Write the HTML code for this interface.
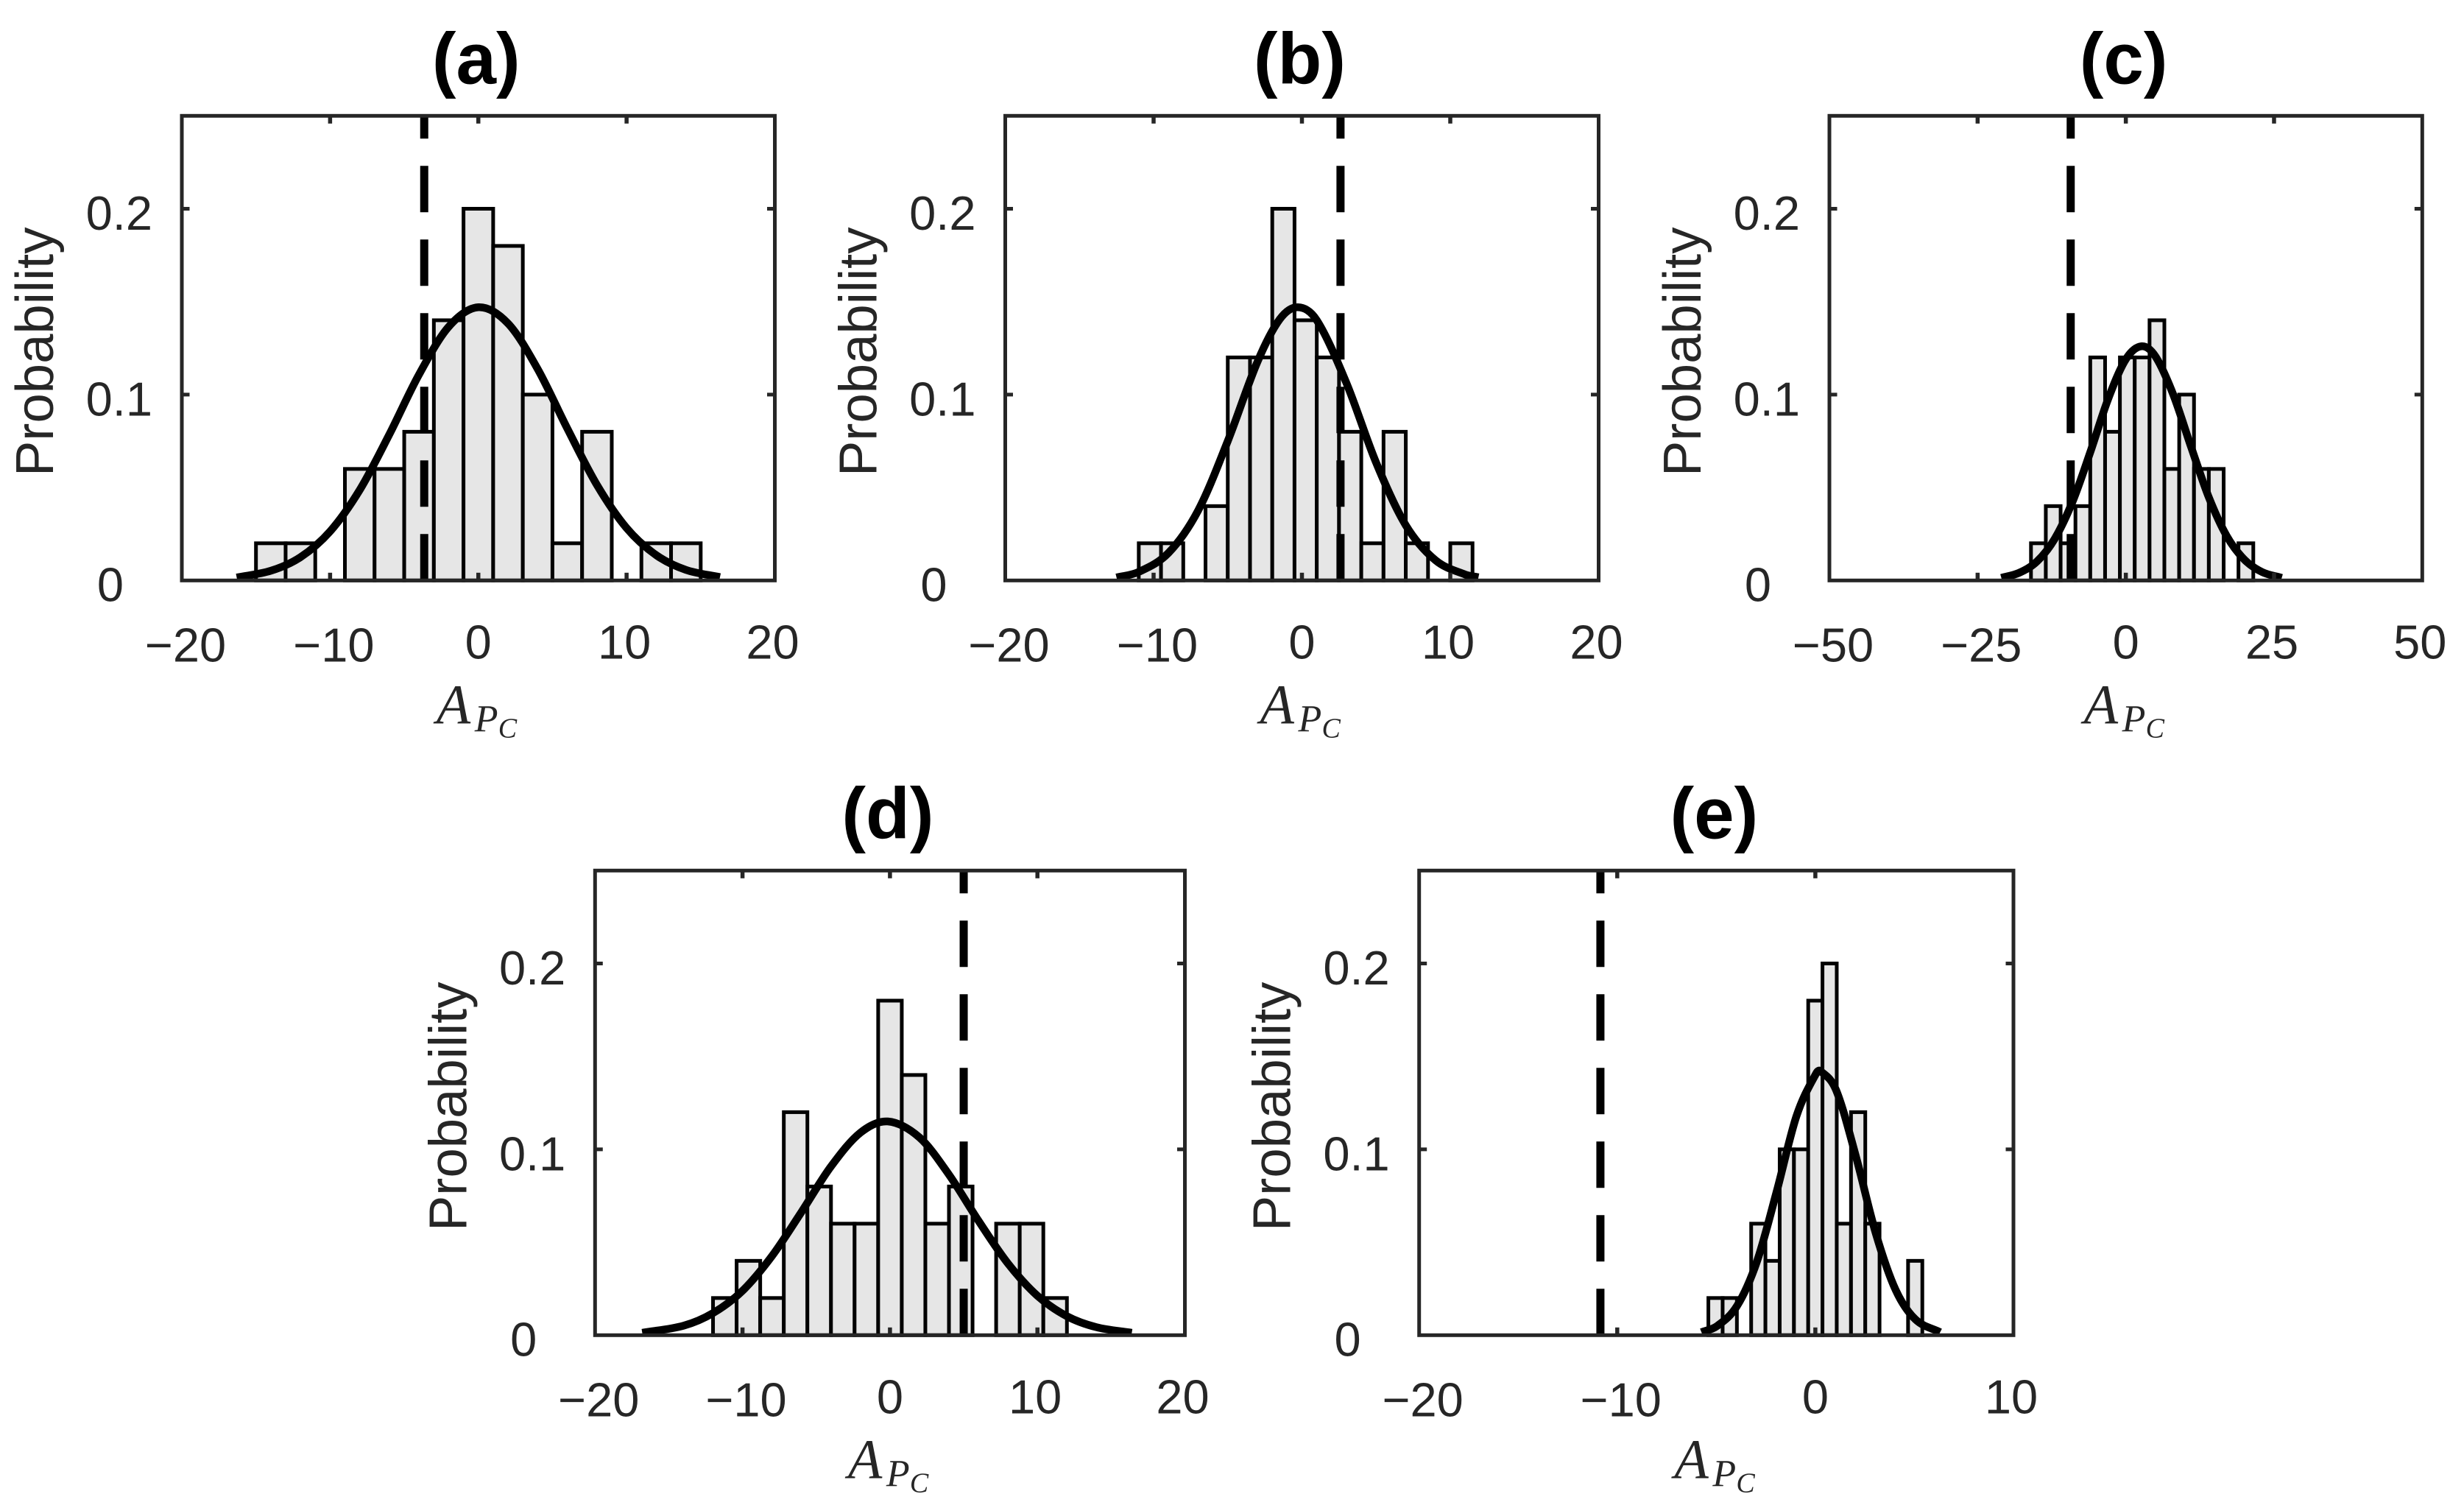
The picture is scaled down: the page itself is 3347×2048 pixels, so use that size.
<!DOCTYPE html>
<html lang="en">
<head>
<meta charset="utf-8">
<title>Probability histograms of A_Pc, panels a to e</title>
<style>
html,body{margin:0;padding:0;background:#fff;}
svg{display:block;}
text{font-family:"Liberation Sans",Arial,sans-serif;}
</style>
</head>
<body>
<svg id="figure" xmlns="http://www.w3.org/2000/svg" width="3347" height="2048" viewBox="0 0 3347 2048"></svg>
<script>
/* Shared axis data */
const yTickValues = [0, 0.1, 0.2];
const yTickLabels = ["0", "0.1", "0.2"];
const yLimits = [0, 0.25];

/* Panel (a) */
const aXTicks = [-20, -10, 0, 10, 20];
const aEdges = [-15,-13,-11,-9,-7,-5,-3,-1,1,3,5,7,9,11,13,15];
const aHeights = [0.02,0.02,0,0.06,0.06,0.08,0.14,0.2,0.18,0.1,0.02,0.08,0,0.02,0.02];
const aCurveX = [-16.3,-14,-12,-10,-8,-6,-4,-2,0,2,4,6,8,10,12,14,16.3];
const aCurveY = [0.0016,0.0052,0.0125,0.0264,0.0487,0.0786,0.1108,0.1365,0.147,0.1383,0.1138,0.0818,0.0514,0.0282,0.0136,0.0057,0.0018];
const aThreshold = [-3.65];

/* Panel (b) */
const bXTicks = [-20, -10, 0, 10, 20];
const bEdges = [-11,-9.5,-8,-6.5,-5,-3.5,-2,-0.5,1,2.5,4,5.5,7,8.5,10,11.5];
const bHeights = [0.02,0.02,0,0.04,0.12,0.12,0.2,0.14,0.12,0.08,0.02,0.08,0.02,0,0.02];
const bCurveX = [-12.5,-11,-9,-7,-5,-3,-1.5,-0.28,1,3,5,7,9,11,11.9];
const bCurveY = [0.0016,0.0046,0.0148,0.0376,0.075,0.1176,0.1405,0.147,0.14,0.1062,0.0634,0.0297,0.0109,0.0032,0.0017];
const bThreshold = [2.6];

/* Panel (c) */
const cXTicks = [-50, -25, 0, 25, 50];
const cEdges = [-16,-13.5,-11,-8.5,-6,-3.5,-1,1.5,4,6.5,9,11.5,14,16.5,19,21.5];
const cHeights = [0.02,0.04,0.02,0.04,0.12,0.08,0.12,0.12,0.14,0.06,0.1,0.06,0.06,0,0.02];
const cCurveX = [-21,-18,-15,-12,-9,-6,-3,0,2.65,5,8,11,14,17,20,23,26.3];
const cCurveY = [0.0014,0.0041,0.0102,0.0224,0.0423,0.069,0.0975,0.119,0.126,0.1205,0.1,0.0719,0.0447,0.024,0.0112,0.0045,0.0014];
const cThreshold = [-9.3];

/* Panel (d) */
const dXTicks = [-20, -10, 0, 10, 20];
const dEdges = [-12,-10.4,-8.8,-7.2,-5.6,-4,-2.4,-0.8,0.8,2.4,4,5.6,7.2,8.8,10.4,12];
const dHeights = [0.02,0.04,0.02,0.12,0.08,0.06,0.06,0.18,0.14,0.06,0.08,0,0.06,0.06,0.02];
const dCurveX = [-16.8,-14,-12,-10,-8,-6,-4,-2,-0.15,2,4,6,8,10,12,14,16.4];
const dCurveY = [0.0013,0.0051,0.0119,0.0239,0.0426,0.0663,0.0908,0.109,0.115,0.1064,0.0864,0.0616,0.0386,0.0212,0.0102,0.0043,0.0013];
const dThreshold = [5.0];

/* Panel (e) */
const eXTicks = [-20, -10, 0, 10];
const eEdges = [-5.4,-4.68,-3.96,-3.24,-2.52,-1.8,-1.08,-0.36,0.36,1.08,1.8,2.52,3.24,3.96,4.68,5.4];
const eHeights = [0.02,0.02,0,0.06,0.04,0.1,0.1,0.18,0.2,0.06,0.12,0.06,0,0,0.04];
const eCurveX = [-5.75,-4.95,-3.95,-2.95,-1.95,-0.95,0.05,0.27,1.05,2.05,3.05,4.05,5.05,6.3];
const eCurveY = [0.0016,0.005,0.0158,0.0396,0.0774,0.118,0.141,0.142,0.1318,0.0961,0.0548,0.0244,0.0085,0.0016];
const eThreshold = [-10.85];

const NS = "http://www.w3.org/2000/svg";
const fig = document.getElementById("figure");
const INK = "#262626";

function make(tag, parent, attrs) {
  const el = document.createElementNS(NS, tag);
  for (const k in attrs) el.setAttribute(k, attrs[k]);
  parent.appendChild(el);
  return el;
}

function curvePath(px, py) {
  const n = px.length;
  const m = [];
  for (let i = 0; i < n; i++) {
    const a = Math.max(i - 1, 0), b = Math.min(i + 1, n - 1);
    m.push((py[b] - py[a]) / (px[b] - px[a]));
  }
  let d = "M" + px[0].toFixed(2) + " " + py[0].toFixed(2);
  for (let i = 0; i < n - 1; i++) {
    const h = (px[i + 1] - px[i]) / 3;
    d += "C" + (px[i] + h).toFixed(2) + " " + (py[i] + m[i] * h).toFixed(2) + " " +
         (px[i + 1] - h).toFixed(2) + " " + (py[i + 1] - m[i + 1] * h).toFixed(2) + " " +
         px[i + 1].toFixed(2) + " " + py[i + 1].toFixed(2);
  }
  return d;
}

function drawPanel(p) {
  const g = make("g", fig, {});
  
  

  const xMin = p.xTicks[0], xMax = p.xTicks[p.xTicks.length - 1];
  const xs = v => p.left + (v - xMin) / (xMax - xMin) * (p.right - p.left);
  const ys = v => p.bottom - (v - yLimits[0]) / (yLimits[1] - yLimits[0]) * (p.bottom - p.top);
  const cx = (p.left + p.right) / 2;

  /* title */
  const title = make("text", g, {x: cx - 3, y: p.top - 44, "text-anchor": "middle", "font-size": 98, "font-weight": "bold", fill: "#000"});
  title.textContent = "(" + p.id + ")";
  
  

  /* bars */
  p.heights.forEach((h, i) => {
    const bar = make("rect", g, {
      x: xs(p.edges[i]), y: ys(h),
      width: xs(p.edges[i + 1]) - xs(p.edges[i]),
      height: ys(0) - ys(h),
      fill: "#e6e6e6", stroke: "#000", "stroke-width": 5
    });
    
    
  });

  /* dashed threshold */
  p.threshold.forEach(v => {
    const line = make("line", g, {
      x1: xs(v), x2: xs(v), y1: p.bottom, y2: p.top,
      stroke: "#000", "stroke-width": 11, "stroke-dasharray": "63 37"
    });
    
    
  });

  /* fit curve */
  const curve = make("path", g, {
    d: curvePath(p.curveX.map(xs), p.curveY.map(ys)),
    fill: "none", stroke: "#000", "stroke-width": 10.5, "stroke-linejoin": "round"
  });
  
  

  /* x ticks and labels */
  p.xTicks.forEach(v => {
    const x = xs(v);
    if (v !== xMin && v !== xMax) {
      const t1 = make("line", g, {x1: x, x2: x, y1: p.bottom, y2: p.bottom - 10.5, stroke: INK, "stroke-width": 5.5});
      
      
      const t2 = make("line", g, {x1: x, x2: x, y1: p.top, y2: p.top + 10.5, stroke: INK, "stroke-width": 5.5});
      
      
    }
    const neg = v < 0;
    const dx = neg ? 5 : (v > 0 ? -3 : 0);
    const lab = make("text", g, {
      x: x + dx, y: p.bottom + (neg ? 110 : 106),
      "text-anchor": "middle", "font-size": 65, fill: INK
    });
    lab.textContent = (neg ? "\u2212" : "") + Math.abs(v);
    
    
  });

  /* y ticks and labels */
  yTickValues.forEach((v, i) => {
    const y = ys(v);
    if (v !== 0) {
      const t1 = make("line", g, {x1: p.left, x2: p.left + 10.5, y1: y, y2: y, stroke: INK, "stroke-width": 5});
      
      
      const t2 = make("line", g, {x1: p.right, x2: p.right - 10.5, y1: y, y2: y, stroke: INK, "stroke-width": 5});
      
      
    }
    const lab = make("text", g, {
      x: p.left - (v === 0 ? 79 : 40), y: y + 28.4,
      "text-anchor": "end", "font-size": 65, fill: INK
    });
    lab.textContent = yTickLabels[i];
    
    
  });

  /* axes box */
  const box = make("rect", g, {
    x: p.left, y: p.top, width: p.right - p.left, height: p.bottom - p.top,
    fill: "none", stroke: INK, "stroke-width": 5
  });
  
  

  /* y-axis title */
  const midY = (p.top + p.bottom) / 2 + 5;
  const yTitle = make("text", g, {
    x: p.left - 175, y: midY, "text-anchor": "middle", "font-size": 72.5, fill: INK,
    transform: "rotate(-90 " + (p.left - 175) + " " + midY + ")"
  });
  yTitle.textContent = "Probability";
  
  

  /* x-axis title: A with nested subscripts */
  const xTitle = make("text", g, {fill: INK, "font-style": "italic", style: 'font-family:"Liberation Serif",serif'});
  
  
  const parts = [["A", -57, 194, 76], ["P", -5, 205, 52], ["C", 27, 213, 38]];
  parts.forEach(part => {
    const s = make("tspan", xTitle, {x: cx + part[1], y: p.bottom + part[2], "font-size": part[3]});
    s.textContent = part[0];
  });
}

drawPanel({id: "a", left: 247, right: 1052.5, top: 157.3, bottom: 788.3, xTicks: aXTicks, edges: aEdges, heights: aHeights, curveX: aCurveX, curveY: aCurveY, threshold: aThreshold});
drawPanel({id: "b", left: 1365.5, right: 2171.5, top: 157.3, bottom: 788.3, xTicks: bXTicks, edges: bEdges, heights: bHeights, curveX: bCurveX, curveY: bCurveY, threshold: bThreshold});
drawPanel({id: "c", left: 2485, right: 3290.3, top: 157.3, bottom: 788.3, xTicks: cXTicks, edges: cEdges, heights: cHeights, curveX: cCurveX, curveY: cCurveY, threshold: cThreshold});
drawPanel({id: "d", left: 808.3, right: 1609.5, top: 1182.3, bottom: 1813.3, xTicks: dXTicks, edges: dEdges, heights: dHeights, curveX: dCurveX, curveY: dCurveY, threshold: dThreshold});
drawPanel({id: "e", left: 1927.7, right: 2735, top: 1182.3, bottom: 1813.3, xTicks: eXTicks, edges: eEdges, heights: eHeights, curveX: eCurveX, curveY: eCurveY, threshold: eThreshold});
</script>
</body>
</html>
